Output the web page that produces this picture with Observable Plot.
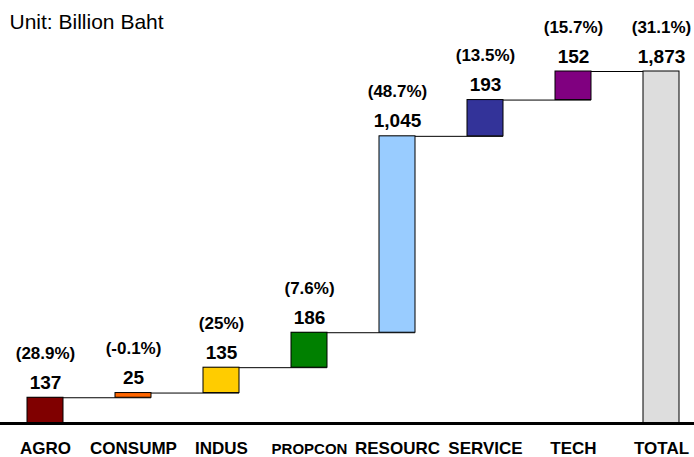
<!DOCTYPE html>
<html>
<head>
<meta charset="utf-8">
<script src="https://cdn.jsdelivr.net/npm/d3@7"></script>
<script src="https://cdn.jsdelivr.net/npm/@observablehq/plot@0.6"></script>
<style>
  html, body { margin: 0; padding: 0; background: #fff; }
  #chart svg { display: block; font-family: "Liberation Sans", Arial, sans-serif; }
</style>
</head>
<body>
<div id="chart"></div>
<script>
const categories = ["AGRO", "CONSUMP", "INDUS", "PROPCON", "RESOURC", "SERVICE", "TECH", "TOTAL"];
const values = [137, 25, 135, 186, 1045, 193, 152, 1873];
const changes = ["(28.9%)", "(-0.1%)", "(25%)", "(7.6%)", "(48.7%)", "(13.5%)", "(15.7%)", "(31.1%)"];
const unitLabel = "Unit: Billion Baht";
const barColors = ["#800000", "#ff6600", "#ffcc00", "#008000", "#99ccff", "#333399", "#800080", "#dddddd"];

// Build waterfall rows
let running = 0;
const rows = categories.map((c, i) => {
  const isTotal = c === "TOTAL";
  const start = isTotal ? 0 : running;
  const end = isTotal ? values[i] : running + values[i];
  if (!isTotal) running = end;
  return {cat: c, value: values[i], change: changes[i], start, end};
});
const connectors = rows.slice(0, -1).map((r, i) => ({from: r.cat, to: rows[i + 1].cat, level: r.end}));

const fmt = d3.format(",");

const chart = Plot.plot({
  width: 694,
  height: 457,
  marginLeft: 0,
  marginRight: 0,
  marginTop: 0,
  marginBottom: 0,
  style: {fontFamily: "'Liberation Sans', Arial, sans-serif", background: "#fff"},
  x: {type: "band", domain: categories, range: [25, 681], paddingInner: 0.594, paddingOuter: 0, axis: null},
  y: {domain: [0, 1873], range: [423, 71], axis: null},
  color: {domain: categories, range: barColors},
  marks: [
    Plot.ruleY(connectors, {x1: "from", x2: "to", y: "level", stroke: "#000", strokeWidth: 1}),
    Plot.barY(rows, {x: "cat", y1: "start", y2: "end", fill: "cat", stroke: "#000", strokeWidth: 1}),
    Plot.ruleY([0], {stroke: "#000", strokeWidth: 3}),
    Plot.text(rows, {x: "cat", y: "end", text: d => fmt(d.value), lineAnchor: "bottom", dy: -9,
      fontSize: 19, fontWeight: "bold", fill: "#000"}),
    Plot.text(rows, {x: "cat", y: "end", text: "change", lineAnchor: "bottom", dy: -39,
      fontSize: 17, fontWeight: "bold", fill: "#000"}),
    Plot.text(categories, {x: d => d, text: d => d, frameAnchor: "bottom", lineAnchor: "bottom", dy: -4,
      fontSize: d => d === "PROPCON" ? 15 : 17, fontWeight: "bold", fill: "#000"}),
    Plot.text([unitLabel], {text: d => d, frameAnchor: "top-left", lineAnchor: "bottom", textAnchor: "start",
      dx: 9, dy: 28, fontSize: 21, fill: "#000"})
  ]
});
document.getElementById("chart").appendChild(chart);
</script>
</body>
</html>
